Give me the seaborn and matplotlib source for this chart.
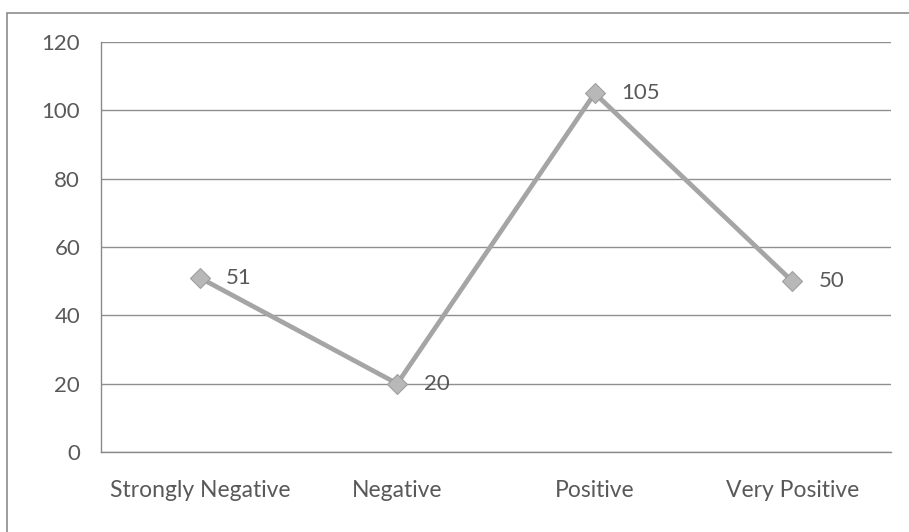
import matplotlib
matplotlib.use("Agg")
import matplotlib.pyplot as plt
from matplotlib.patches import Rectangle
import seaborn as sns
import pandas as pd

categories = ["Strongly Negative", "Negative", "Positive", "Very Positive"]
counts = [51, 20, 105, 50]
y_ticks = [0, 20, 40, 60, 80, 100, 120]

sns.set_theme(style="white")
plt.rcParams["font.family"] = ["Lato", "DejaVu Sans"]

W, H = 909, 532
fig = plt.figure(figsize=(W / 100, H / 100), dpi=100)
ax = fig.add_axes([101 / W, 1 - 452 / H, (891 - 101) / W, (452 - 42) / H])

# categories sit between the category ticks
df = pd.DataFrame({"pos": [i + 0.5 for i in range(len(categories))], "count": counts})
line_col = "#a5a5a5"
sns.lineplot(data=df, x="pos", y="count", ax=ax, color=line_col, linewidth=3.4,
             marker="D", markersize=10, markerfacecolor="#b8b8b8",
             markeredgecolor="#9c9c9c", zorder=3)

for x, v in zip(df["pos"], df["count"]):
    ax.annotate(str(v), (x, v), xytext=(19, 0), textcoords="offset points",
                ha="left", va="center", fontsize=16, color="#595959")

ax.set_xlim(0, len(categories))
ax.set_ylim(0, 120)
ax.set_yticks(y_ticks)
ax.set_yticklabels([str(t) for t in y_ticks])
ax.set_xticks(range(len(categories) + 1))
ax.set_xticklabels([])
ax.set_xticks(df["pos"], minor=True)
ax.set_xticklabels(categories, minor=True)
ax.tick_params(axis="x", which="minor", length=0, pad=20, labelsize=16.5, labelcolor="#595959")
ax.tick_params(axis="x", which="major", length=7, width=1, color="#8a8a8a", direction="out")
ax.tick_params(axis="y", length=7, width=1, color="#8a8a8a", direction="out",
               labelsize=16, labelcolor="#595959", pad=8)

ax.yaxis.grid(True, color="#8f8f8f", linewidth=1)
ax.set_axisbelow(True)
for side in ["top", "right"]:
    ax.spines[side].set_visible(False)
ax.spines["left"].set_color("#8a8a8a")
ax.spines["bottom"].set_color("#8a8a8a")
ax.spines["left"].set_linewidth(1)
ax.spines["bottom"].set_linewidth(1)
ax.set_xlabel("")
ax.set_ylabel("")

# chart frame, running off the right and bottom edges
fig.patches.append(Rectangle((7 / W, -0.1), 1.2, 1.1 - 13 / H, transform=fig.transFigure,
                             fill=False, edgecolor="#8c8c8c", linewidth=1.2))

fig.savefig("out.png", dpi=100, facecolor="white")
